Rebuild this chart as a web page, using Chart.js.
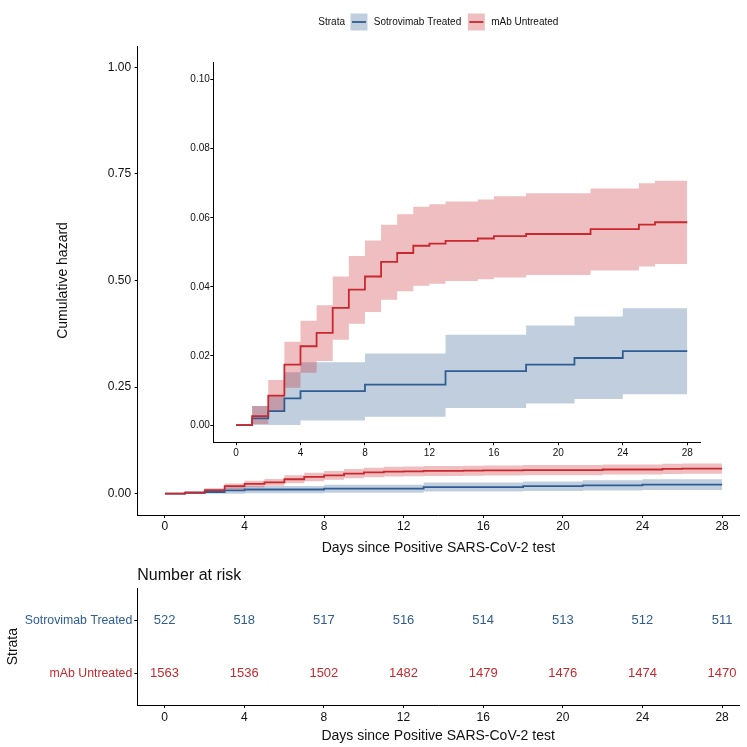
<!DOCTYPE html>
<html>
<head>
<meta charset="utf-8">
<script src="https://cdn.jsdelivr.net/npm/chart.js@4.4.1/dist/chart.umd.min.js"></script>
<style>
html, body { margin: 0; padding: 0; background: #fff; }
#wrap { position: relative; width: 747px; height: 747px; }
#wrap canvas { position: absolute; left: 0; top: 0; }
</style>
</head>
<body>
<div id="wrap">
  <canvas id="main" width="747" height="747"></canvas>
  <canvas id="inset" width="747" height="747"></canvas>
  <canvas id="risk" width="747" height="747"></canvas>
</div>
<script>
const strata = ['Sotrovimab Treated', 'mAb Untreated'];

// cumulative hazard step curves (value holds from each time until the next one)
const sotTimes = [0, 1, 2, 3, 4, 8, 13, 18, 21, 24, 28];
const sotHaz   = [0, 0.0019, 0.0040, 0.0077, 0.0098, 0.0117, 0.0156, 0.0175, 0.0194, 0.0214, 0.0214];
const sotUpper = [0, 0.0055, 0.0086, 0.0153, 0.0182, 0.0207, 0.0261, 0.0288, 0.0314, 0.0338, 0.0338];
const sotLower = [0, 0, 0, 0, 0.0013, 0.0024, 0.0049, 0.0062, 0.0075, 0.0089, 0.0089];

const redTimes = [0, 1, 2, 3, 4, 5, 6, 7, 8, 9, 10, 11, 12, 13, 15, 16, 18, 22, 25, 26, 28];
const redHaz   = [0, 0.0026, 0.0085, 0.0175, 0.0228, 0.0267, 0.0339, 0.0392, 0.0430, 0.0472, 0.0498, 0.0519, 0.0525, 0.0533, 0.0540, 0.0547, 0.0553, 0.0567, 0.0580, 0.0587, 0.0587];
const redUpper = [0, 0.0055, 0.0130, 0.0241, 0.0302, 0.0347, 0.0430, 0.0489, 0.0534, 0.0580, 0.0610, 0.0632, 0.0639, 0.0647, 0.0653, 0.0662, 0.0671, 0.0685, 0.0700, 0.0707, 0.0707];
const redLower = [0, 0.0003, 0.0040, 0.0108, 0.0151, 0.0185, 0.0247, 0.0293, 0.0327, 0.0363, 0.0387, 0.0403, 0.0409, 0.0417, 0.0422, 0.0427, 0.0434, 0.0447, 0.0459, 0.0466, 0.0466];

// number at risk table
const riskTimes = [0, 4, 8, 12, 16, 20, 24, 28];
const sotRisk = [522, 518, 517, 516, 514, 513, 512, 511];
const redRisk = [1563, 1536, 1502, 1482, 1479, 1476, 1474, 1470];

const dayTicks = [0, 4, 8, 12, 16, 20, 24, 28];
const mainTicks = [0, 0.25, 0.5, 0.75, 1];
const insetTicks = [0, 0.02, 0.04, 0.06, 0.08, 0.1];

const blue = '#2f5d92', red = '#c9292e';
const blueFill = 'rgba(47,93,146,0.3)', redFill = 'rgba(201,41,46,0.3)';
const fontFamily = '"Liberation Sans", Arial, Helvetica, sans-serif';
const textColor = '#111';

Chart.defaults.font.family = fontFamily;

function pts(times, vals) {
    return times.map((t, i) => ({ x: t, y: vals[i] }));
}

function curveDatasets(lw) {
    const none = 'rgba(0,0,0,0)';
    return [
        { data: pts(sotTimes, sotUpper), fill: '+1', backgroundColor: blueFill, borderColor: none, borderWidth: 0, order: 3 },
        { data: pts(sotTimes, sotLower), fill: false, borderColor: none, borderWidth: 0, order: 3 },
        { data: pts(redTimes, redUpper), fill: '+1', backgroundColor: redFill, borderColor: none, borderWidth: 0, order: 2 },
        { data: pts(redTimes, redLower), fill: false, borderColor: none, borderWidth: 0, order: 2 },
        { data: pts(sotTimes, sotHaz), borderColor: blue, borderWidth: lw, fill: false, order: 1 },
        { data: pts(redTimes, redHaz), borderColor: red, borderWidth: lw, fill: false, order: 0 }
    ].map(d => Object.assign({ stepped: true, pointRadius: 0, pointHoverRadius: 0 }, d));
}

function axis(o) {
    return {
        type: 'linear',
        min: o.min,
        max: o.max,
        border: { display: true, color: '#000', width: 1 },
        grid: { display: true, drawOnChartArea: false, drawTicks: true, tickLength: 3, color: '#000', lineWidth: 1 },
        ticks: {
            color: o.tickColor || textColor,
            font: { size: o.font },
            padding: o.pad,
            maxRotation: 0,
            autoSkip: false,
            callback: o.fmt || (v => v)
        },
        title: o.title
            ? { display: true, text: o.title, color: textColor, font: { size: 14 }, padding: 0 }
            : { display: false },
        afterBuildTicks: s => { s.ticks = o.ticks.map(v => ({ value: v })); },
        afterFit: s => {
            if (o.w != null) s.width = o.w;
            if (o.h != null) s.height = o.h;
        }
    };
}

const legendPlugin = {
    id: 'strataLegend',
    afterDraw(chart) {
        const ctx = chart.ctx, ca = chart.chartArea;
        const y = 22, key = 17;
        const items = [
            { label: strata[0], line: blue, fill: blueFill },
            { label: strata[1], line: red, fill: redFill }
        ];
        ctx.save();
        ctx.font = '10px ' + fontFamily;
        ctx.textBaseline = 'middle';
        ctx.textAlign = 'left';
        let total = ctx.measureText('Strata').width + 5.5;
        items.forEach((it, i) => {
            total += key + 6.3 + ctx.measureText(it.label).width + (i < items.length - 1 ? 6.6 : 0);
        });
        let x = (ca.left + ca.right) / 2 - total / 2;
        ctx.fillStyle = textColor;
        ctx.fillText('Strata', x, y);
        x += ctx.measureText('Strata').width + 5.5;
        items.forEach(it => {
            ctx.fillStyle = it.fill;
            ctx.fillRect(x, y - key / 2, key, key);
            ctx.strokeStyle = it.line;
            ctx.lineWidth = 1.8;
            ctx.beginPath();
            ctx.moveTo(x + 1.5, y);
            ctx.lineTo(x + key - 1.5, y);
            ctx.stroke();
            x += key + 6.3;
            ctx.fillStyle = textColor;
            ctx.fillText(it.label, x, y);
            x += ctx.measureText(it.label).width + 6.6;
        });
        ctx.restore();
    }
};

const riskPlugin = {
    id: 'riskNumbers',
    afterDatasetsDraw(chart) {
        const { ctx, chartArea } = chart;
        const xs = chart.scales.x, ys = chart.scales.y;
        ctx.save();
        ctx.font = '13px ' + fontFamily;
        ctx.textAlign = 'center';
        ctx.textBaseline = 'middle';
        [[sotRisk, 2, blue], [redRisk, 1, red]].forEach(([vals, row, col]) => {
            ctx.fillStyle = col;
            riskTimes.forEach((t, i) => {
                ctx.fillText(String(vals[i]), xs.getPixelForValue(t), ys.getPixelForValue(row));
            });
        });
        ctx.font = '16px ' + fontFamily;
        ctx.fillStyle = textColor;
        ctx.textAlign = 'left';
        ctx.fillText('Number at risk', chartArea.left, chartArea.top - 13);
        ctx.restore();
    }
};

const common = {
    responsive: false,
    animation: false,
    events: [],
    plugins: { legend: { display: false }, tooltip: { enabled: false } }
};

// main cumulative hazard panel
new Chart(document.getElementById('main'), {
    type: 'line',
    data: { datasets: curveDatasets(1.8) },
    options: Object.assign({}, common, {
        layout: { padding: { left: 54.6, right: 8, top: 46, bottom: 190.6 } },
        scales: {
            x: axis({ min: -1.37, max: 28.85, ticks: dayTicks, font: 12, pad: 1, h: 41.4,
                      title: 'Days since Positive SARS-CoV-2 test' }),
            y: axis({ min: -0.05, max: 1.05, ticks: mainTicks, font: 12, pad: 3.5, w: 83.1,
                      fmt: v => v.toFixed(2), title: 'Cumulative hazard' })
        }
    }),
    plugins: [legendPlugin]
});

// zoomed inset
new Chart(document.getElementById('inset'), {
    type: 'line',
    data: { datasets: curveDatasets(1.8) },
    options: Object.assign({}, common, {
        layout: { padding: { left: 150, right: 47, top: 62.3, bottom: 284.7 } },
        scales: {
            x: axis({ min: -1.41, max: 28.79, ticks: dayTicks, font: 10, pad: 1.5, h: 20 }),
            y: axis({ min: -0.005, max: 0.105, ticks: insetTicks, font: 10, pad: 0.5, w: 63.3,
                      fmt: v => v.toFixed(2) })
        }
    })
});

// number at risk table
new Chart(document.getElementById('risk'), {
    type: 'scatter',
    data: {
        datasets: [
            { data: riskTimes.map(t => ({ x: t, y: 2 })), pointRadius: 0 },
            { data: riskTimes.map(t => ({ x: t, y: 1 })), pointRadius: 0 }
        ]
    },
    options: Object.assign({}, common, {
        layout: { padding: { left: 4.9, right: 8, top: 588.3, bottom: 2.6 } },
        scales: {
            x: axis({ min: -1.37, max: 28.85, ticks: dayTicks, font: 12, pad: 2, h: 39.4,
                      title: 'Days since Positive SARS-CoV-2 test' }),
            y: axis({ min: 0.4, max: 2.6, ticks: [1, 2], font: 12.3, pad: 2, w: 132.4,
                      fmt: v => (v === 2 ? strata[0] : strata[1]),
                      tickColor: c => (c.tick && c.tick.value === 2 ? blue : red),
                      title: 'Strata' })
        }
    }),
    plugins: [riskPlugin]
});
</script>
</body>
</html>
